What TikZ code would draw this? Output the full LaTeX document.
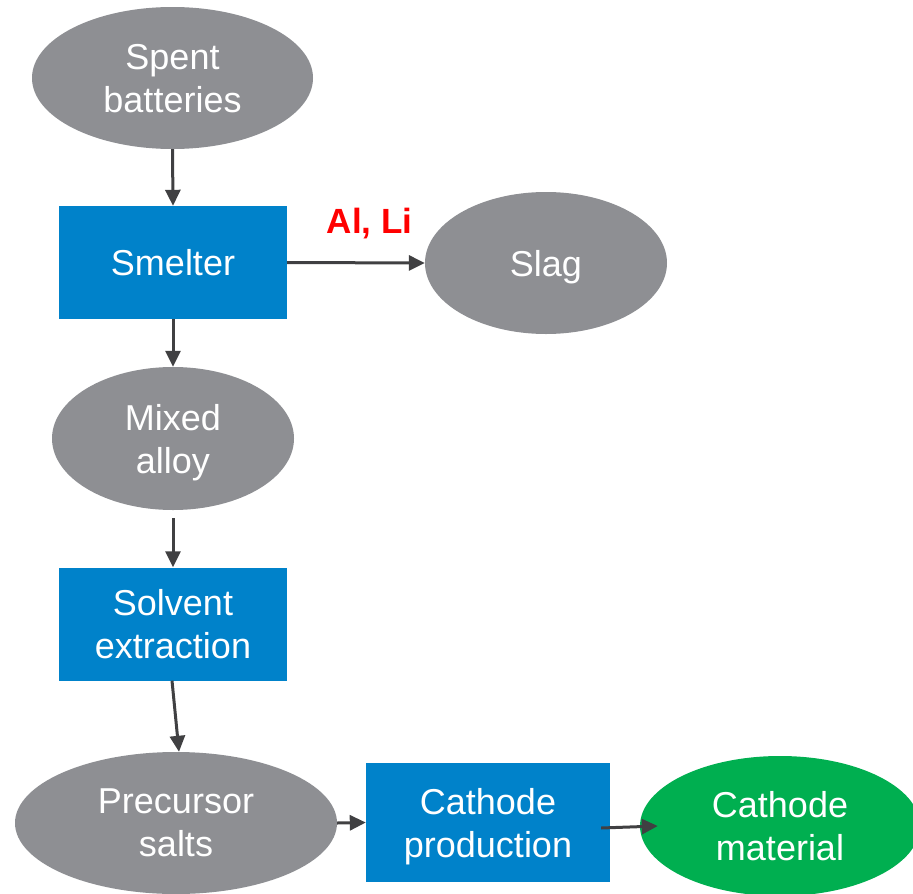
\documentclass[tikz,border=0pt]{standalone}
\usepackage{fontspec}
\setmainfont{Liberation Sans}
\usetikzlibrary{shapes.geometric,arrows.meta}

\definecolor{stockgray}{RGB}{142,143,147}
\definecolor{stageblue}{RGB}{0,130,202}
\definecolor{outgreen}{RGB}{0,175,80}
\definecolor{flowgray}{RGB}{64,64,66}

\begin{document}
\begin{tikzpicture}[x=1pt, y=-1pt,
    stock/.style={ellipse, fill=stockgray, text=white, align=center, inner sep=0pt, text depth=0pt},
    stage/.style={rectangle, fill=stageblue, text=white, align=center, inner sep=0pt, text depth=0pt},
    flow/.style={draw=flowgray, line width=3pt, -{Triangle[length=16pt, width=15pt]}}]

  \fontsize{36}{43}\selectfont

  \newcommand\BoxW{228pt};
  \newcommand\BoxH{113pt};

  \useasboundingbox (0,0) rectangle (913,894);

  \node[stock, minimum width=281pt, minimum height=142pt] (bat) at (172.5, 78) {Spent\\batteries};
  \node[stage, minimum width=\BoxW, minimum height=\BoxH] (smelt) at (173, 262.5) {Smelter};
  \node[stock, minimum width=242pt, minimum height=142pt] (slag) at (546, 263) {Slag};
  \node[stock, minimum width=242pt, minimum height=143pt] (alloy) at (173, 438.5) {Mixed\\alloy};
  \node[stage, minimum width=\BoxW, minimum height=\BoxH] (solv) at (173, 624) {Solvent\\extraction};
  \node[stock, minimum width=322pt, minimum height=142pt] (prec) at (176, 823) {Precursor\\salts};
  \node[stage, minimum width=244pt, minimum height=119pt] (cprod) at (488, 822.5) {Cathode\\production};
  \node[stock, fill=outgreen, minimum width=280pt, minimum height=140pt] (cmat) at (780, 826) {Cathode\\material};

  \draw[flow] (bat.south) -- (smelt.north); %% bat->smelt
  \draw[flow] (smelt.east) -- node[pos=0.6, anchor=base, yshift=29pt, text=red,
    font=\bfseries\fontsize{35}{42}\selectfont] (rem) {Al, Li} (slag.west); %% smelt->slag
  \draw[flow] (smelt.south) -- (alloy.north); %% smelt->alloy
  \draw[flow] ([yshift=-8pt]alloy.south) -- (solv.north); %% alloy->solv
  \draw[flow] ([xshift=-1pt]solv.south) -- ([xshift=3pt]prec.north); %% solv->prec
  \draw[flow] (prec.east) -- (cprod.west); %% prec->cprod
  \draw[flow] ([xshift=-9pt, yshift=-5.5pt]cprod.east) -- ([xshift=18pt]cmat.west); %% cprod->cmat
\end{tikzpicture}
\end{document}
